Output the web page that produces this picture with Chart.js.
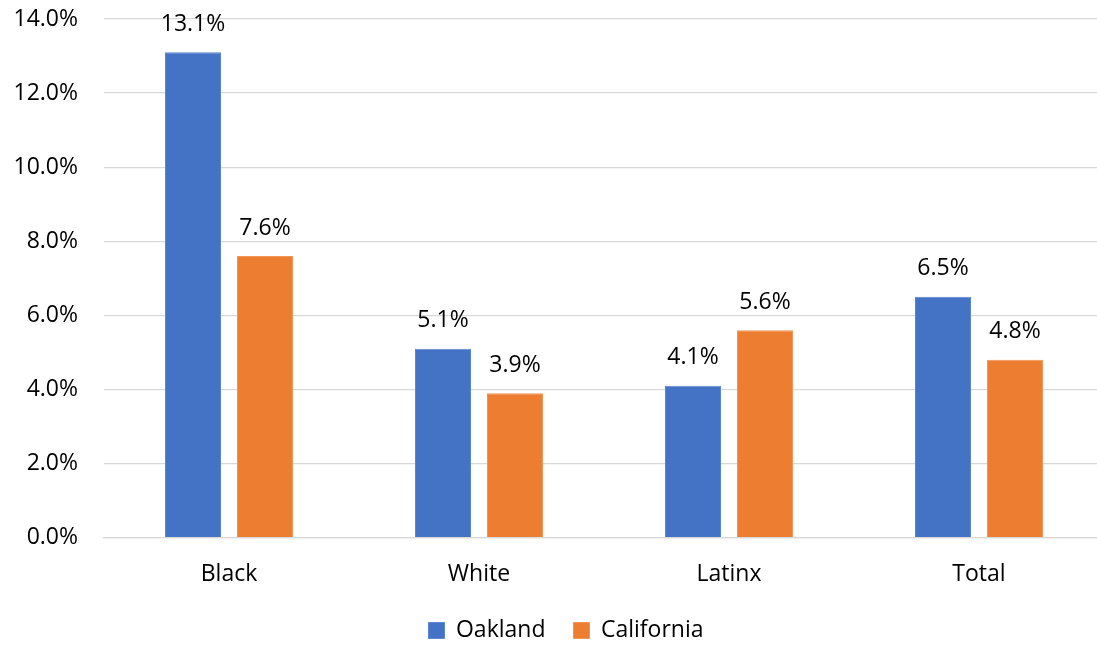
<!DOCTYPE html>
<html>
<head>
<meta charset="utf-8">
<script src="https://cdn.jsdelivr.net/npm/chart.js@4"></script>
<style>
  html, body { margin: 0; padding: 0; background: #fff; overflow: hidden; }
  #wrap { width: 1132px; height: 646px; }
</style>
</head>
<body>
<div id="wrap"><canvas id="chart"></canvas></div>
<script>
const categories = ['Black', 'White', 'Latinx', 'Total'];
const oakland = [13.1, 5.1, 4.1, 6.5];
const california = [7.6, 3.9, 5.6, 4.8];
const yTicks = [0, 2, 4, 6, 8, 10, 12, 14];

const FONT = '"Open Sans", "Noto Sans", sans-serif';
const FS = 23;

// draws the value above each bar
const valueLabels = {
    id: 'valueLabels',
    afterDatasetsDraw(chart) {
        const ctx = chart.ctx;
        ctx.save();
        ctx.font = FS + 'px ' + FONT;
        ctx.fillStyle = '#000';
        ctx.textAlign = 'center';
        ctx.textBaseline = 'middle';
        chart.data.datasets.forEach((ds, i) => {
            chart.getDatasetMeta(i).data.forEach((bar, j) => {
                ctx.fillText(ds.data[j].toFixed(1) + '%', bar.x, bar.y - 28);
            });
        });
        ctx.restore();
    }
};

// legend sits a bit right of the canvas centre in the original
const legendNudge = {
    id: 'legendNudge',
    afterLayout(chart) {
        chart.legend.left += 14;
        chart.legend.right += 14;
    }
};

new Chart(document.getElementById('chart'), {
    type: 'bar',
    data: {
        labels: categories,
        datasets: [
            { label: 'Oakland', data: oakland, backgroundColor: '#4472C4', borderColor: '#5B86D0', borderWidth: 1 },
            { label: 'California', data: california, backgroundColor: '#ED7D31', borderColor: '#F29656', borderWidth: 1 }
        ]
    },
    options: {
        responsive: true, maintainAspectRatio: false, animation: false,
        categoryPercentage: 0.576, barPercentage: 0.778,
        layout: { padding: { top: 19, right: 28, left: 0, bottom: -6 } },
        plugins: {
            tooltip: { enabled: false },
            legend: {
                position: 'bottom',
                labels: { font: { family: FONT, size: FS }, color: '#000', boxWidth: 16, boxHeight: 16, padding: 28 }
            }
        },
        scales: {
            x: {
                grid: { display: false, drawTicks: false },
                border: { display: true, color: '#d9d9d9', width: 1.3 },
                afterFit: axis => { axis.height = 53.4; },
                ticks: { font: { family: FONT, size: FS }, color: '#000', padding: 23 }
            },
            y: {
                min: 0, max: 14,
                afterBuildTicks: axis => { axis.ticks = yTicks.map(v => ({ value: v })); },
                afterFit: axis => { axis.width = 104; },
                grid: { color: '#d9d9d9', lineWidth: 1.3, drawTicks: true, tickLength: 26, tickColor: 'rgba(0,0,0,0)' },
                border: { display: false },
                ticks: {
                    font: { family: FONT, size: FS }, color: '#000', padding: 0,
                    callback: v => v.toFixed(1) + '%'
                }
            }
        }
    },
    plugins: [valueLabels, legendNudge]
});
</script>
</body>
</html>
